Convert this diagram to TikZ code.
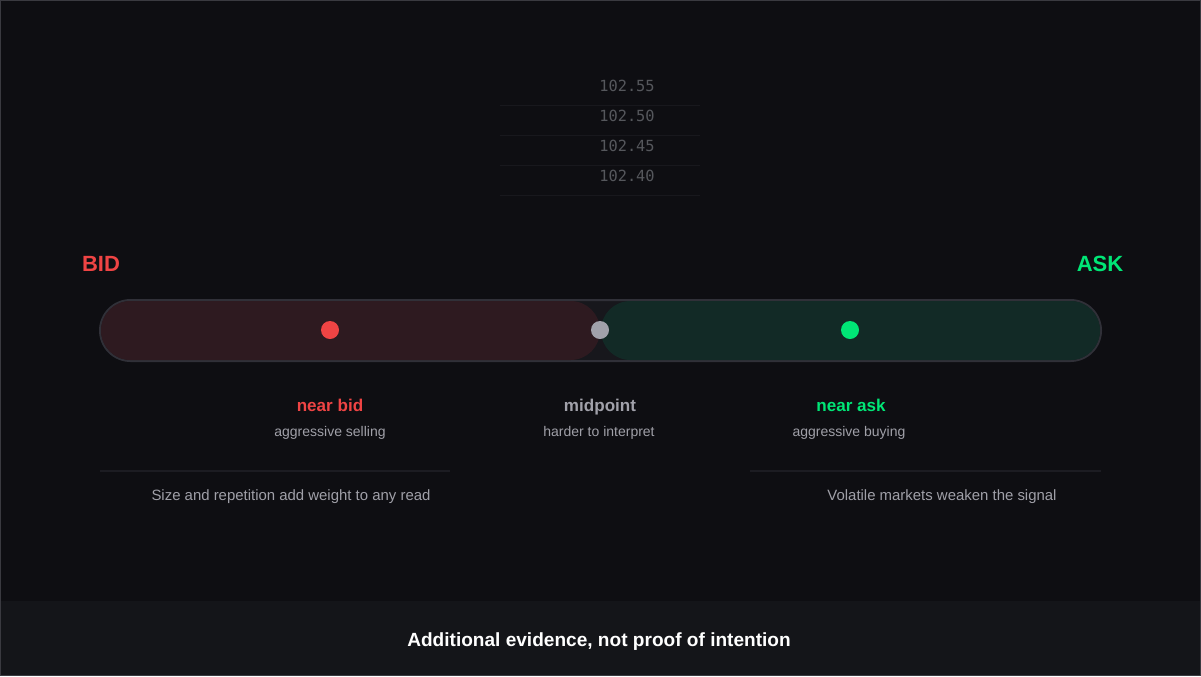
\documentclass[tikz,border=0pt]{standalone}
\usepackage{fontspec}
\setmainfont{Liberation Sans}
\newfontfamily\pricefont{DejaVu Sans Mono}
\usetikzlibrary{positioning}

\definecolor{bgdark}{HTML}{0E0E12}
\definecolor{footbg}{HTML}{141519}
\definecolor{framegrey}{HTML}{3A3A40}
\definecolor{bidred}{HTML}{EF4444}
\definecolor{askgreen}{HTML}{00E676}
\definecolor{midgrey}{HTML}{A1A1AA}
\definecolor{subgrey}{HTML}{A0A0A8}
\definecolor{ladder}{HTML}{55575C}
\definecolor{ladderline}{HTML}{18181D}
\definecolor{ruleline}{HTML}{1C1C22}
\definecolor{barrim}{HTML}{303038}
\definecolor{bargap}{HTML}{17171C}
\definecolor{bidfill}{HTML}{2E1A20}
\definecolor{askfill}{HTML}{122A26}

\tikzset{
  side/.style={font=\fontsize{16.5pt}{18pt}\selectfont\bfseries, anchor=base},
  head/.style={font=\fontsize{12.8pt}{14pt}\selectfont\bfseries, anchor=base},
  sub/.style={font=\fontsize{10.5pt}{12pt}\selectfont, text=subgrey, anchor=base},
  note/.style={font=\fontsize{11.2pt}{13pt}\selectfont, text=subgrey, anchor=base},
  price/.style={font=\pricefont\fontsize{11.5pt}{13pt}\selectfont, text=ladder, anchor=base},
  dot/.style={circle, minimum size=13.5pt, inner sep=0pt}
}

\begin{document}
\begin{tikzpicture}[x=0.75pt,y=-0.75pt]
  % background and footer
  \fill[bgdark] (0,0) rectangle (1201,676);
  \fill[footbg] (0,601) rectangle (1201,676);
  \draw[framegrey, line width=0.75pt] (0.5,0.5) rectangle (1200.5,675.5);
  \useasboundingbox (0,0) rectangle (1201,676);

  % price ladder
  \foreach \p/\y in {102.55/91, 102.50/121, 102.45/151, 102.40/181}
    \node[price] (p\y) at (627,\y) {\p};
  \foreach \y in {105,135,165,195}
    \draw[ladderline, line width=0.75pt] (500,\y) -- (700,\y);

  % side labels
  \node[side, text=bidred]   (bid) at (101,271) {BID};
  \node[side, text=askgreen] (ask) at (1100,271) {ASK};

  % the bar
  \draw[barrim, fill=bargap, line width=1.5pt, rounded corners=23pt] (100,300) rectangle (1101,361);
  \fill[bidfill, rounded corners=22pt] (101,301) rectangle (600,360);
  \fill[askfill, rounded corners=22pt] (601,301) rectangle (1100,360);

  \node[dot, fill=bidred]   (nearbid) at (330,330) {};
  \node[dot, fill=midgrey]  (mid)     at (600,330) {};
  \node[dot, fill=askgreen] (nearask) at (850,330) {};

  % readings
  \node[head, text=bidred]   (bidhead) at (330,411) {near bid};
  \node[sub] (bidsub) at (330,436) {aggressive selling};
  \node[head, text=midgrey]  (midhead) at (600,411) {midpoint};
  \node[sub] (midsub) at (599,436) {harder to interpret};
  \node[head, text=askgreen] (askhead) at (851,411) {near ask};
  \node[sub] (asksub) at (849,436) {aggressive buying};

  % caveats
  \draw[ruleline, line width=1.5pt] (100,471) -- (450,471);
  \draw[ruleline, line width=1.5pt] (750,471) -- (1101,471);
  \node[note] (sizenote) at (291,500) {Size and repetition add weight to any read};
  \node[note] (volnote)  at (942,500) {Volatile markets weaken the signal};

  \node[font=\fontsize{14.3pt}{16pt}\selectfont\bfseries, text=white, anchor=base] (footer) at (599,646)
    {Additional evidence, not proof of intention};
\end{tikzpicture}
\end{document}
